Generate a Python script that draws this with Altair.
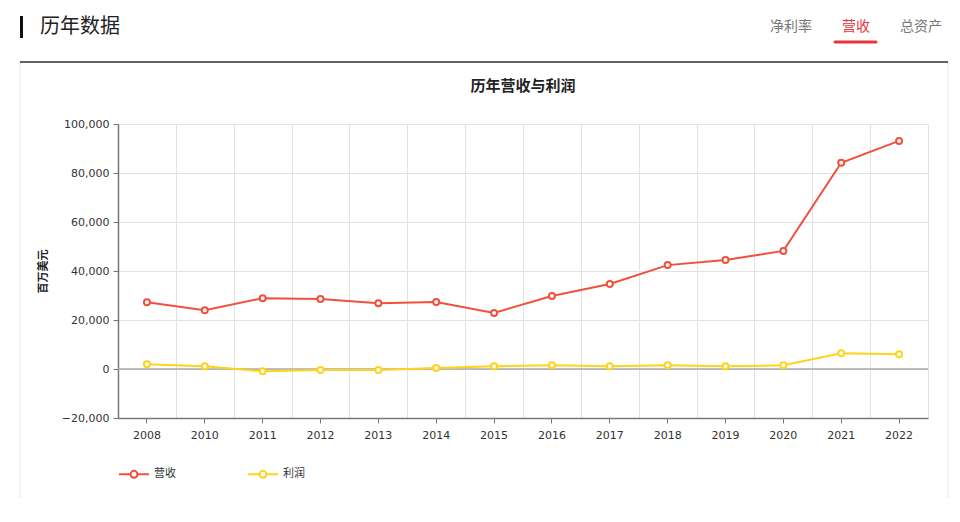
import pandas as pd
import altair as alt

years = ["2008", "2010", "2011", "2012", "2013", "2014", "2015",
         "2016", "2017", "2018", "2019", "2020", "2021", "2022"]
revenue = [27200, 24000, 28900, 28600, 26800, 27300, 22900,
           29800, 34700, 42400, 44500, 48200, 84200, 93100]
profit = [1900, 1100, -900, -400, -400, 400, 1100,
          1500, 1100, 1500, 1100, 1500, 6400, 6000]
series = ["营收", "利润"]
series_colors = ["#f2503c", "#ffd31a"]
y_ticks = [-20000, 0, 20000, 40000, 60000, 80000, 100000]
tabs = ["净利率", "营收", "总资产"]

CJK = "Noto Sans CJK SC"
NUM = "Verdana, DejaVu Sans, Noto Sans CJK SC"

df = pd.concat([
    pd.DataFrame({"year": years, "series": "营收", "value": revenue}),
    pd.DataFrame({"year": years, "series": "利润", "value": profit}),
], ignore_index=True)

one = pd.DataFrame({"k": [0]})

# page decoration: card box, header bar, header text, tabs, divider
box = alt.Chart(one).mark_rect(filled=False, stroke="#e6e6e6", strokeWidth=1).encode(
    x=alt.value(-98), x2=alt.value(830), y=alt.value(-62), y2=alt.value(378))
bar = alt.Chart(one).mark_rect(fill="#111111").encode(
    x=alt.value(-98), x2=alt.value(-95), y=alt.value(-108), y2=alt.value(-86))
header = alt.Chart(one).mark_text(text="历年数据", font=CJK, fontSize=20, align="left",
                                  baseline="middle", color="#222222").encode(
    x=alt.value(-78), y=alt.value(-97))
tab_layers = []
for name, cx in zip(tabs, [673, 738, 803]):
    tab_layers.append(
        alt.Chart(one).mark_text(text=name, font=CJK, fontSize=14, baseline="middle",
                                 color="#e8343a" if name == "营收" else "#777777").encode(
            x=alt.value(cx), y=alt.value(-97)))
underline = alt.Chart(one).mark_rule(color="#e8343a", strokeWidth=3, strokeCap="round").encode(
    x=alt.value(717), x2=alt.value(758), y=alt.value(-82))
divider = alt.Chart(one).mark_rule(color="#333333", strokeWidth=1.5).encode(
    x=alt.value(-98), x2=alt.value(830), y=alt.value(-62))
title = alt.Chart(one).mark_text(text="历年营收与利润", font=CJK, fontSize=15, fontWeight="bold",
                                 baseline="middle", color="#222222").encode(
    x=alt.value(405), y=alt.value(-38))

x_scale = alt.Scale(type="band", paddingInner=0, paddingOuter=0)
y_scale = alt.Scale(domain=[-20000, 100000], nice=False)
y_axis = alt.Axis(values=y_ticks, format=",", labelExpr="format(datum.value, ',')",
                  grid=True, gridColor="#e2e2e2",
                  tickSize=5, tickColor="#777777", domainColor="#777777",
                  domainWidth=1.5, labelFont=NUM, labelFontSize=11,
                  labelColor="#333333", labelPadding=4,
                  title="百万美元", titleFont=CJK, titleFontSize=11,
                  titleFontWeight="bold", titleColor="#222222",
                  titleX=-75, titleY=147, titleBaseline="middle")

# vertical grid at the band edges
vgrid = alt.Chart(df).mark_point(opacity=0).encode(
    x=alt.X("year:N", sort=years, scale=x_scale,
            axis=alt.Axis(orient="top", grid=True, tickBand="extent", labels=False,
                          ticks=False, domain=False, title=None,
                          gridColor="#e2e2e2", gridWidth=1)))

zero = alt.Chart(one).mark_rule(color="#aaaaaa", strokeWidth=1.5).encode(
    y=alt.Y(datum=0, scale=y_scale, axis=y_axis))

legend_symbol = ("M-1,0L-0.23,0M0.23,0L1,0"
                 "M0.23,0A0.23,0.23,0,1,1,-0.23,0A0.23,0.23,0,1,1,0.23,0Z")

lines = alt.Chart(df).mark_line(
    strokeWidth=2,
    point=alt.OverlayMarkDef(filled=False, fill="white", size=36, strokeWidth=2),
).encode(
    x=alt.X("year:N", sort=years, scale=x_scale,
            axis=alt.Axis(orient="bottom", grid=False, labelAngle=0, tickSize=5,
                          tickColor="#777777", domainColor="#777777", domainWidth=1.5,
                          labelFont=NUM, labelFontSize=11, labelColor="#333333",
                          labelPadding=6, title=None)),
    y=alt.Y("value:Q", scale=y_scale, axis=y_axis),
    color=alt.Color("series:N", sort=series,
                    scale=alt.Scale(domain=series, range=series_colors),
                    legend=alt.Legend(title=None, orient="none", legendX=0, legendY=334,
                                      direction="horizontal", symbolType=legend_symbol,
                                      symbolSize=900, symbolStrokeWidth=2,
                                      symbolFillColor="white", labelFont=CJK,
                                      labelFontSize=11, labelColor="#333333",
                                      labelOffset=4, columnPadding=68)),
)

chart = alt.layer(
    box, bar, header, *tab_layers, underline, divider, title, vgrid, zero, lines
).resolve_axis(x="independent").properties(
    width=810, height=294, autosize="none",
    padding={"left": 110, "top": 116, "right": 24, "bottom": 80},
).configure_view(stroke=None)

chart.save("out.html", embed_options={"renderer": "svg", "actions": False})
